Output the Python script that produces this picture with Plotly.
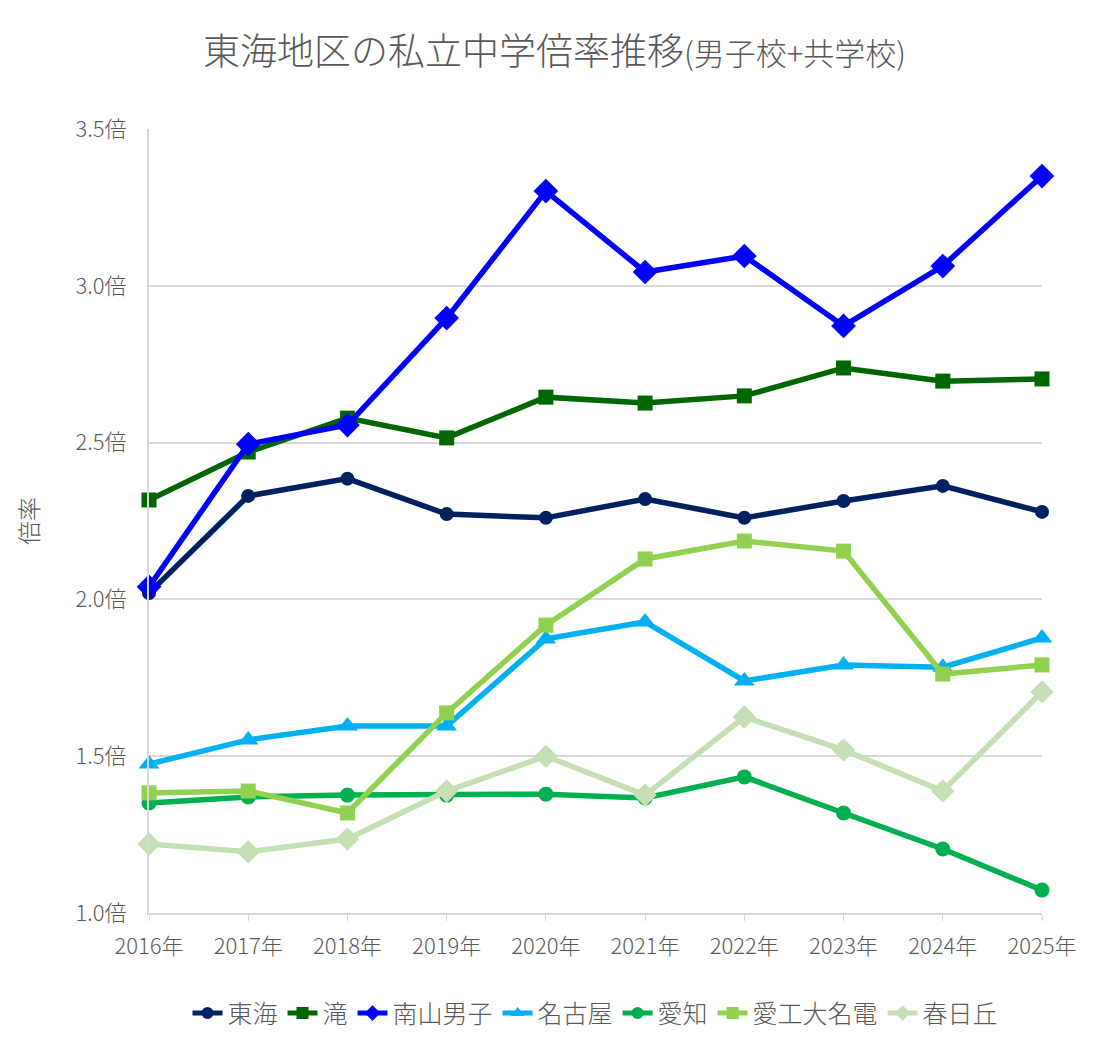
import plotly.graph_objects as go

years = ["2016年", "2017年", "2018年", "2019年", "2020年", "2021年", "2022年", "2023年", "2024年", "2025年"]
tokai = [2.02, 2.33, 2.385, 2.272, 2.26, 2.32, 2.26, 2.314, 2.362, 2.279]
taki = [2.317, 2.47, 2.578, 2.515, 2.645, 2.626, 2.649, 2.738, 2.696, 2.703]
nanzan = [2.04, 2.495, 2.556, 2.897, 3.302, 3.044, 3.095, 2.872, 3.063, 3.35]
nagoya = [1.475, 1.552, 1.596, 1.596, 1.874, 1.928, 1.74, 1.791, 1.784, 1.877]
aichi = [1.351, 1.37, 1.376, 1.376, 1.379, 1.367, 1.434, 1.319, 1.204, 1.073]
meiden = [1.383, 1.389, 1.319, 1.638, 1.918, 2.129, 2.186, 2.154, 1.762, 1.791]
kasugaoka = [1.22, 1.195, 1.236, 1.389, 1.5, 1.376, 1.625, 1.52, 1.389, 1.705]

series = [
    ("東海", tokai, "#002060", "circle", 14),
    ("滝", taki, "#006600", "square", 15),
    ("南山男子", nanzan, "#0000FF", "diamond", 19),
    ("名古屋", nagoya, "#00B0F0", "triangle-up", 18),
    ("愛知", aichi, "#00B050", "circle", 15),
    ("愛工大名電", meiden, "#92D050", "square", 15),
    ("春日丘", kasugaoka, "#C5E0B4", "diamond", 18),
]

font = "Noto Sans CJK JP"
fig = go.Figure()
xs = list(range(len(years)))
for name, vals, color, sym, sz in series:
    fig.add_trace(go.Scatter(
        x=xs, y=vals, name=name, mode="lines+markers",
        line=dict(color=color, width=5.5),
        marker=dict(symbol=sym, size=sz, color=color),
        cliponaxis=False,
    ))

fig.update_layout(
    width=1093, height=1045,
    paper_bgcolor="white", plot_bgcolor="white",
    margin=dict(l=141, r=59, t=121, b=140),
    title=dict(text="東海地区の私立中学倍率推移<span style='font-size:31px'>(男子校+共学校)</span>",
               x=0.5, xanchor="center", y=0.958, yanchor="middle",
               font=dict(family=font, size=37, color="#595959", weight=300)),
    font=dict(family=font, color="#595959", weight=300),
    showlegend=True,
    legend=dict(orientation="h", x=0.5, xanchor="center", y=-0.128, yanchor="middle",
                font=dict(family=font, size=25, color="#595959", weight=300),
                itemwidth=30, tracegroupgap=0, itemsizing="constant"),
    xaxis=dict(
        tickmode="array", tickvals=xs, ticktext=years, range=[0, 9],
        showgrid=False, zeroline=False,
        showline=True, linecolor="#D9D9D9", linewidth=2,
        ticks="outside", ticklen=6, tickcolor="#D9D9D9", tickwidth=1,
        tickfont=dict(family=font, size=22, color="#595959", weight=300),
        ticklabelstandoff=7,
    ),
    yaxis=dict(
        range=[1.0, 3.5],
        tickvals=[1.0, 1.5, 2.0, 2.5, 3.0, 3.5],
        ticktext=["1.0倍", "1.5倍", "2.0倍", "2.5倍", "3.0倍", "3.5倍"],
        showgrid=True, gridcolor="#D9D9D9", gridwidth=2,
        zeroline=False, showline=True, linecolor="#D9D9D9", linewidth=2,
        tickfont=dict(family=font, size=22, color="#595959", weight=300),
        ticklabelstandoff=16,
        title=dict(text="倍率", font=dict(family=font, size=24, color="#595959", weight=300), standoff=30),
    ),
)

fig.write_html("out.html")
